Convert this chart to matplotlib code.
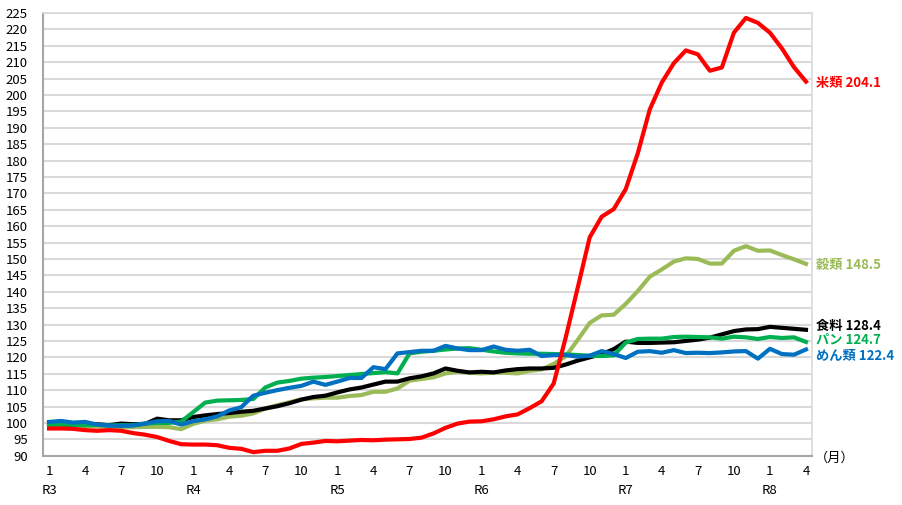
import matplotlib
matplotlib.use("Agg")
import matplotlib.pyplot as plt
import numpy as np

plt.rcParams['font.family'] = ['Noto Sans CJK JP', 'DejaVu Sans']

# R3年1月 ～ R8年4月 (64か月)
years = ["R3", "R4", "R5", "R6", "R7", "R8"]
n_months = 64

# 米類
rice = [98.3, 98.3, 98.2, 97.8, 97.6, 97.8, 97.6, 96.9, 96.4, 95.7, 94.5, 93.5,
        93.4, 93.4, 93.2, 92.4, 92.1, 91.1, 91.5, 91.5, 92.2, 93.6, 94.0, 94.5,
        94.4, 94.6, 94.8, 94.7, 94.9, 95.0, 95.1, 95.5, 96.8, 98.5, 99.8, 100.4,
        100.5, 101.1, 102.0, 102.6, 104.5, 106.6, 112.0, 126.0, 141.2, 156.6, 162.9, 165.2,
        171.3, 182.2, 195.6, 203.8, 209.7, 213.6, 212.4, 207.4, 208.4, 219.0, 223.5, 222.0,
        219.0, 214.2, 208.5, 204.1]
# 穀類
grain = [99.3, 99.3, 99.2, 99.0, 98.9, 98.8, 98.7, 98.7, 98.8, 98.8, 98.7, 98.1,
         99.7, 100.7, 101.1, 101.9, 102.2, 102.9, 104.4, 105.4, 106.3, 107.2, 107.5, 107.7,
         107.7, 108.2, 108.5, 109.5, 109.5, 110.5, 112.9, 113.4, 113.9, 115.1, 115.6, 115.3,
         115.1, 115.3, 115.3, 115.1, 115.9, 116.3, 118.0, 120.3, 125.3, 130.5, 132.8, 133.0,
         136.3, 140.2, 144.6, 146.8, 149.2, 150.2, 150.0, 148.6, 148.6, 152.5, 153.9, 152.5,
         152.6, 151.2, 149.9, 148.5]
# 食料
food = [99.6, 99.6, 99.4, 99.5, 99.6, 99.3, 99.8, 99.6, 99.7, 101.3, 100.8, 100.8,
        101.8, 102.3, 102.7, 103.0, 103.4, 103.7, 104.4, 105.1, 106.0, 107.1, 107.9, 108.3,
        109.3, 110.2, 110.8, 111.7, 112.6, 112.6, 113.6, 114.2, 115.1, 116.6, 115.9, 115.4,
        115.6, 115.4, 116.0, 116.4, 116.6, 116.6, 116.8, 117.8, 119.0, 120.0, 121.0, 122.5,
        124.8, 124.4, 124.4, 124.5, 124.6, 125.0, 125.4, 126.0, 127.0, 128.0, 128.5, 128.6,
        129.3, 129.0, 128.7, 128.4]
# パン
bread = [99.4, 99.6, 99.4, 99.3, 99.4, 99.2, 99.3, 99.3, 99.8, 100.0, 100.0, 100.4,
         103.3, 106.2, 106.8, 106.9, 107.0, 107.3, 110.8, 112.3, 112.8, 113.5, 113.8, 114.0,
         114.3, 114.6, 114.9, 115.2, 115.5, 115.1, 121.2, 121.7, 122.0, 122.4, 122.7, 122.8,
         122.3, 121.8, 121.4, 121.2, 121.1, 121.1, 121.0, 120.9, 120.7, 120.5, 120.4, 120.6,
         124.5, 125.6, 125.7, 125.7, 126.2, 126.3, 126.2, 126.1, 125.7, 126.3, 126.1, 125.6,
         126.2, 125.9, 126.1, 124.7]
# めん類
noodle = [100.3, 100.6, 100.1, 100.3, 99.5, 99.2, 99.1, 99.2, 99.8, 100.5, 100.6, 99.5,
          100.5, 101.1, 102.0, 103.8, 104.8, 108.3, 109.2, 110.0, 110.7, 111.3, 112.6, 111.6,
          112.6, 113.7, 113.7, 117.0, 116.4, 121.2, 121.6, 122.0, 122.0, 123.5, 122.7, 122.2,
          122.2, 123.3, 122.3, 122.0, 122.3, 120.4, 120.7, 120.7, 120.2, 120.5, 121.9, 121.0,
          119.8, 121.7, 121.9, 121.4, 122.2, 121.3, 121.4, 121.3, 121.5, 121.8, 121.9, 119.6,
          122.6, 121.0, 120.8, 122.4]

series = [
    (grain, "#9BBB59", "穀類 148.5", 148.2),
    (food, "#000000", "食料 128.4", 129.6),
    (bread, "#00B050", "パン 124.7", 125.5),
    (noodle, "#0070C0", "めん類 122.4", 120.4),
    (rice, "#FF0000", "米類 204.1", 203.7),
]

fig = plt.figure(figsize=(9.02, 5.05), dpi=100)
ax = fig.add_axes([0.0477, 0.0976, 0.8525, 0.8766])

x = np.arange(n_months)
for vals, col, lab, ly in series:
    ax.plot(x, vals, color=col, lw=3, solid_joinstyle='round', zorder=3)
    ax.text(63.85, ly, lab, color=col, fontsize=9.5, fontweight='bold',
            va='center', ha='left', clip_on=False)

ax.set_xlim(-0.5, 63.5)
ax.set_ylim(90, 225)
ax.set_yticks(np.arange(90, 226, 5))
ax.yaxis.grid(True, color="#D9D9D9", lw=1.5, zorder=0)
ax.set_axisbelow(True)

ticks = [i for i in range(n_months) if i % 3 == 0]
ax.set_xticks(ticks)
ax.set_xticklabels([str(i % 12 + 1) for i in ticks])
ax.tick_params(axis='both', length=0, labelsize=9.5)
ax.tick_params(axis='x', pad=7)
ax.tick_params(axis='y', pad=11)

for k, yr in enumerate(years):
    ax.annotate(yr, xy=(k * 12, 0), xycoords=('data', 'axes fraction'),
                xytext=(0, -25), textcoords='offset points',
                ha='center', va='center', fontsize=9.5)

ax.text(63.7, 89.3, "（月）", fontsize=9.5, va='center', ha='left', clip_on=False)

for s in ['left', 'bottom']:
    ax.spines[s].set_color("#A6A6A6")
    ax.spines[s].set_linewidth(1.5)
for s in ['right', 'top']:
    ax.spines[s].set_color("#D9D9D9")
    ax.spines[s].set_linewidth(1.2)

fig.savefig("out.png", dpi=100)
